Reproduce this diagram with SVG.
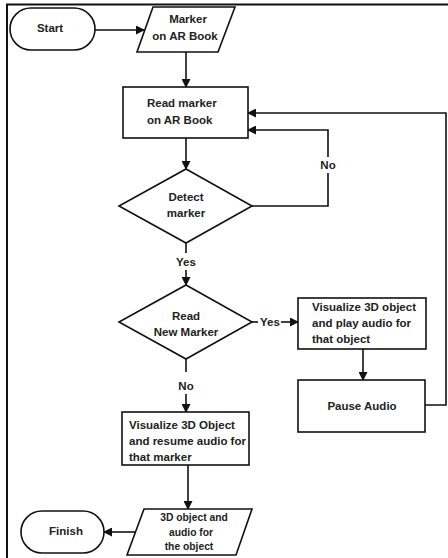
<svg xmlns="http://www.w3.org/2000/svg" width="448" height="558" viewBox="0 0 448 558">
<defs>
<marker id="ah" markerWidth="9" markerHeight="9" refX="8" refY="4.5" orient="auto" markerUnits="userSpaceOnUse">
<path d="M0,0 L9,4.5 L0,9 Z" fill="#111"/>
</marker>
<style>
.s{fill:#fff;stroke:#111;stroke-width:1.6}
.c{fill:none;stroke:#111;stroke-width:1.6}
.t{font-family:"Liberation Sans",Arial,sans-serif;font-weight:bold;font-size:11.5px;fill:#222}
.m{text-anchor:middle}
.sm{font-size:10.3px}
</style>
</defs>
<rect width="448" height="558" fill="#fff"/>
<path d="M7,558 V4.5 H448" fill="none" stroke="#111" stroke-width="2"/>
<g id="connectors">
<path class="c" d="M95,30 H144" marker-end="url(#ah)"/>
<path class="c" d="M186,52 V87" marker-end="url(#ah)"/>
<path class="c" d="M186,138 V169" marker-end="url(#ah)"/>
<path class="c" d="M252,206 H328 V130 H248" marker-end="url(#ah)"/>
<rect x="318" y="157" width="21" height="16" fill="#fff"/>
<text class="t m" x="328" y="169">No</text>
<path class="c" d="M186,243 V253"/>
<text class="t m" x="186" y="266">Yes</text>
<path class="c" d="M186,270 V285" marker-end="url(#ah)"/>
<path class="c" d="M252,322 H258"/>
<text class="t m" x="270" y="326">Yes</text>
<path class="c" d="M281,322 H298" marker-end="url(#ah)"/>
<path class="c" d="M363,349 V380" marker-end="url(#ah)"/>
<path class="c" d="M425,405 H446 V113 H248" marker-end="url(#ah)"/>
<path class="c" d="M186,359 V372"/>
<text class="t m" x="186" y="390">No</text>
<path class="c" d="M186,394 V412" marker-end="url(#ah)"/>
<path class="c" d="M188,465 V509" marker-end="url(#ah)"/>
<path class="c" d="M135,532 H104" marker-end="url(#ah)"/>
</g>
<g id="start">
<rect class="s" x="10" y="8" width="85" height="42" rx="21"/>
<text class="t m" x="50" y="32">Start</text>
</g>
<g id="marker">
<polygon class="s" points="153,7 235,7 218,52 137,52"/>
<text class="t m" x="188" y="23">Marker</text>
<text class="t m" x="185" y="40">on AR Book</text>
</g>
<g id="read">
<rect class="s" x="123" y="87" width="125" height="51"/>
<text class="t" x="147" y="107">Read marker</text>
<text class="t" x="147" y="124">on AR Book</text>
</g>
<g id="detect">
<polygon class="s" points="186,169 252,206 186,243 119,206"/>
<text class="t m" x="186" y="201">Detect</text>
<text class="t m" x="186" y="217">marker</text>
</g>
<g id="readnew">
<polygon class="s" points="186,285 252,322 186,359 119,322"/>
<text class="t m" x="186" y="320">Read</text>
<text class="t m" x="186" y="336">New Marker</text>
</g>
<g id="visplay">
<rect class="s" x="298" y="298" width="128" height="51"/>
<text class="t" x="312" y="311">Visualize 3D object</text>
<text class="t" x="312" y="327">and play audio for</text>
<text class="t" x="312" y="343">that object</text>
</g>
<g id="pause">
<rect class="s" x="298" y="380" width="127" height="52"/>
<text class="t m" x="362" y="410">Pause Audio</text>
</g>
<g id="visresume">
<rect class="s" x="122" y="412" width="127" height="53"/>
<text class="t" x="129" y="429">Visualize 3D Object</text>
<text class="t" x="129" y="445">and resume audio for</text>
<text class="t" x="129" y="461">that marker</text>
</g>
<g id="output">
<polygon class="s" points="144,509 252,509 236,555 127,555"/>
<text class="t m sm" x="194" y="521">3D object and</text>
<text class="t m sm" x="191" y="536">audio for</text>
<text class="t m sm" x="189" y="550">the object</text>
</g>
<g id="finish">
<rect class="s" x="21" y="511" width="83" height="42" rx="21"/>
<text class="t m" x="66" y="535">Finish</text>
</g>
</svg>
